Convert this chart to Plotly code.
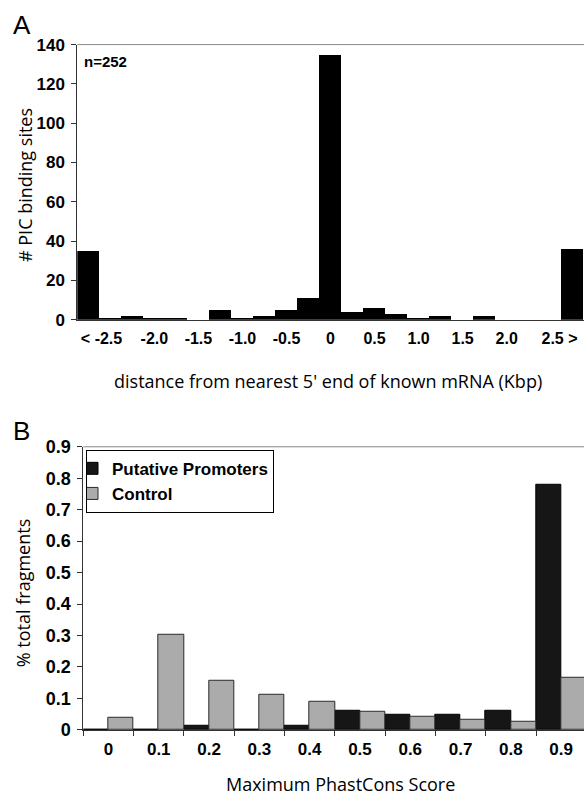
import plotly.graph_objects as go

W, H = 584, 795
# vertical calibration of the captured page (measured from earlier renders)
SY, OY = 0.972, 10.5

# ---------- Panel A data ----------
bin_centers = [-2.75, -2.5, -2.25, -2.0, -1.75, -1.5, -1.25, -1.0, -0.75, -0.5, -0.25,
               0.0, 0.25, 0.5, 0.75, 1.0, 1.25, 1.5, 1.75, 2.0, 2.25, 2.5, 2.75]
pic_counts = [35, 1, 2, 1, 1, 0, 5, 1, 2, 5, 11,
              135, 4, 6, 3, 1, 2, 0, 2, 0, 0, 0, 36]
a_tickvals = [-2.6, -2.0, -1.5, -1.0, -0.5, 0.0, 0.5, 1.0, 1.5, 2.0, 2.6]
a_ticktext = ["< -2.5", "-2.0", "-1.5", "-1.0", "-0.5", "0", "0.5", "1.0", "1.5", "2.0", "2.5 >"]

# ---------- Panel B data ----------
phast_bins = ["0", "0.1", "0.2", "0.3", "0.4", "0.5", "0.6", "0.7", "0.8", "0.9"]
promoters = [0.0, 0.0, 0.014, 0.0, 0.014, 0.060, 0.047, 0.047, 0.060, 0.780]
control = [0.040, 0.302, 0.155, 0.111, 0.090, 0.058, 0.041, 0.032, 0.026, 0.165]


def fx(px):
    return px / W


def fy(py):
    return 1 - ((py - OY) / SY) / H


fig = go.Figure()

fig.add_trace(go.Bar(
    x=bin_centers, y=pic_counts, width=0.25,
    marker=dict(color="#000000", line=dict(width=0)),
    xaxis="x", yaxis="y", showlegend=False, name="PIC binding sites"))

fig.add_trace(go.Bar(
    x=phast_bins, y=promoters, name="Putative Promoters",
    marker=dict(color="#161616", line=dict(color="#000000", width=1)),
    xaxis="x2", yaxis="y2", legendgroup="b"))
fig.add_trace(go.Bar(
    x=phast_bins, y=control, name="Control",
    marker=dict(color="#ababab", line=dict(color="#2a2a2a", width=1)),
    xaxis="x2", yaxis="y2", legendgroup="b"))

ARIAL = "Liberation Sans, Arial"
tick_font_a_x = dict(family=ARIAL, size=16, color="#000", weight="bold")
tick_font_a_y = dict(family=ARIAL, size=17, color="#000", weight="bold")
tick_font_b_x = dict(family=ARIAL, size=17, color="#000", weight="bold")
tick_font_b_y = dict(family=ARIAL, size=18, color="#000", weight="bold")
title_font = dict(family="Open Sans", size=18, color="#000")

a_left, a_bin_px = 77.3, 22.02
a_end = -2.875 + (W - a_left) / a_bin_px * 0.25
b_left, b_cat_px = 83.3, 50.3
b_end = -0.5 + (W - b_left) / b_cat_px

fig.update_layout(
    width=W, height=H,
    margin=dict(l=0, r=0, t=0, b=0),
    paper_bgcolor="white", plot_bgcolor="white",
    barmode="group", bargap=0, bargroupgap=0,
    xaxis=dict(domain=[fx(a_left), 1], range=[-2.875, a_end], anchor="y",
               tickvals=a_tickvals, ticktext=a_ticktext, tickfont=tick_font_a_x,
               showgrid=False, zeroline=False, showline=True, linecolor="#333", linewidth=1,
               ticks="", ticklabelstandoff=4),
    yaxis=dict(domain=[fy(319.3), fy(45)], range=[0, 140], anchor="x",
               tickvals=[0, 20, 40, 60, 80, 100, 120, 140], tickfont=tick_font_a_y,
               showgrid=False, zeroline=False, showline=True, linecolor="#333", linewidth=1,
               ticks="outside", ticklen=5, tickcolor="#333", ticklabelstandoff=3),
    xaxis2=dict(domain=[fx(b_left), 1], range=[-0.5, b_end], anchor="y2", type="category",
                tickfont=tick_font_b_x, tickson="boundaries",
                showgrid=False, zeroline=False, showline=True, linecolor="#333", linewidth=1,
                ticks="outside", ticklen=5, tickcolor="#333", ticklabelstandoff=4),
    yaxis2=dict(domain=[fy(728.3), fy(446)], range=[0, 0.9], anchor="x2",
                tickvals=[0, 0.1, 0.2, 0.3, 0.4, 0.5, 0.6, 0.7, 0.8, 0.9],
                ticktext=["0", "0.1", "0.2", "0.3", "0.4", "0.5", "0.6", "0.7", "0.8", "0.9"],
                tickfont=tick_font_b_y,
                showgrid=False, zeroline=False, showline=True, linecolor="#333", linewidth=1,
                ticks="outside", ticklen=5, tickcolor="#333", ticklabelstandoff=3),
    legend=dict(x=fx(86), y=fy(449), xanchor="left", yanchor="top",
                bgcolor="white", bordercolor="#000", borderwidth=1,
                font=dict(family=ARIAL, size=17, color="#000", weight="bold"),
                indentation=-15, tracegroupgap=0),
    showlegend=True,
)

# top frame lines
fig.add_shape(type="line", xref="x domain", yref="y domain", x0=0, x1=1, y0=1, y1=1,
              line=dict(color="#888", width=1))
fig.add_shape(type="line", xref="x2 domain", yref="y2 domain", x0=0, x1=1, y0=1, y1=1,
              line=dict(color="#888", width=1))

ann = [
    dict(text="A", x=fx(11), y=fy(25), xanchor="left", yanchor="middle",
         font=dict(family=ARIAL, size=26, color="#000")),
    dict(text="B", x=fx(11), y=fy(430), xanchor="left", yanchor="middle",
         font=dict(family=ARIAL, size=26, color="#000")),
    dict(text="n=252", x=fx(82), y=fy(62), xanchor="left", yanchor="middle",
         font=dict(family=ARIAL, size=15, color="#000", weight="bold")),
    dict(text="# PIC binding sites", x=fx(25), y=fy(185), textangle=-90,
         xanchor="center", yanchor="middle", font=title_font),
    dict(text="distance from nearest 5' end of known mRNA (Kbp)", x=fx(328), y=fy(380),
         xanchor="center", yanchor="middle", font=title_font),
    dict(text="% total fragments", x=fx(23), y=fy(592), textangle=-90,
         xanchor="center", yanchor="middle", font=title_font),
    dict(text="Maximum PhastCons Score", x=fx(341), y=fy(782),
         xanchor="center", yanchor="middle", font=title_font),
]
for a in ann:
    a.update(xref="paper", yref="paper", showarrow=False)
    fig.add_annotation(**a)

fig.write_html(
    "out.html",
    config={"displayModeBar": False},
    post_script="document.documentElement.style.margin='0';"
                "document.body.style.margin='0';document.body.style.padding='0';"
                "document.documentElement.style.overflow='hidden';",
)
